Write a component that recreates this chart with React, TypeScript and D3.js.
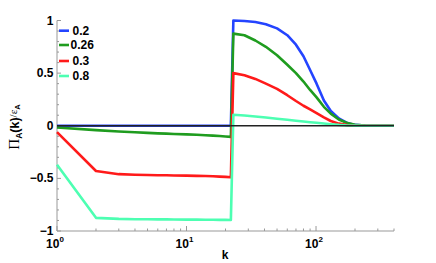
import React from 'react';
import * as d3 from 'd3';

// k values (shared by all series); the step sits between 22 and 23
const kValues = [1, 2, 3, 4, 5, 6, 7, 8, 10, 12, 14, 16, 18, 20, 22,
  23, 28, 34, 41, 50, 60, 70, 80, 90, 101, 115, 130, 150, 175, 200, 240, 300, 400];

const series02 = [0, 0, 0, 0, 0, 0, 0, 0, 0, 0, 0, 0, 0, 0, 0,
  1.0, 0.995, 0.985, 0.965, 0.925, 0.86, 0.77, 0.66, 0.53, 0.40, 0.24, 0.14, 0.07, 0.025, 0.008, 0.001, 0, 0];
const series026 = [-0.017, -0.042, -0.055, -0.062, -0.068, -0.072, -0.075, -0.078, -0.082, -0.086, -0.09, -0.094, -0.098, -0.102, -0.106,
  0.875, 0.86, 0.81, 0.75, 0.67, 0.58, 0.50, 0.42, 0.34, 0.27, 0.18, 0.115, 0.06, 0.025, 0.01, 0.002, 0, 0];
const series03 = [-0.06, -0.43, -0.46, -0.465, -0.468, -0.47, -0.471, -0.472, -0.474, -0.476, -0.478, -0.48, -0.483, -0.486, -0.49,
  0.50, 0.48, 0.445, 0.40, 0.35, 0.29, 0.235, 0.19, 0.155, 0.12, 0.08, 0.045, 0.02, 0.006, 0.001, 0, 0, 0];
const series08 = [-0.37, -0.875, -0.885, -0.888, -0.889, -0.89, -0.89, -0.891, -0.892, -0.892, -0.893, -0.893, -0.894, -0.894, -0.895,
  0.105, 0.097, 0.088, 0.078, 0.067, 0.057, 0.048, 0.041, 0.034, 0.028, 0.021, 0.015, 0.008, 0.003, 0.001, 0, 0, 0];

const legendLabels = ['0.2', '0.26', '0.3', '0.8'];
const colors = ['#2444ff', '#1f9c1f', '#ff1a1a', '#4dffb2'];
const allSeries = [series02, series026, series03, series08];

const yTicks = [-1, -0.5, 0, 0.5, 1];
const yTickLabels = ['\u22121', '\u22120.5', '0', '0.5', '1'];
const xTicks = [1, 10, 100];
const xTickExps = ['0', '1', '2'];

const W = 436;
const H = 263;

export default function App() {
  const x = d3.scaleLog().domain([1, 400]).range([57, 394]);
  const y = d3.scaleLinear().domain([-1, 1]).range([231, 20.5]);

  const line = d3.line<number>()
    .x((_, i) => x(kValues[i]))
    .y(d => y(d));

  // minor ticks
  const yMinor = d3.range(-10, 11).map(i => i / 10).filter(v => Math.abs(v * 2 - Math.round(v * 2)) > 1e-6);
  const xMinor: number[] = [];
  [1, 10, 100].forEach(dec => {
    for (let m = 2; m <= 9; m++) {
      const v = dec * m;
      if (v <= 400) xMinor.push(v);
    }
  });

  const axisColor = '#999';
  const font = 'Liberation Sans, Arial, sans-serif';

  return (
    <svg width={W} height={H} style={{ position: 'absolute', left: 0, top: 0 }} fontFamily={font}>
      {/* axes */}
      <line x1={x(1)} x2={x(1)} y1={y(-1)} y2={y(1)} stroke={axisColor} strokeWidth={1} />
      <line x1={x(1)} x2={x(400)} y1={y(-1)} y2={y(-1)} stroke={axisColor} strokeWidth={1} />
      {yTicks.map(t => (
        <line key={'ym' + t} x1={x(1)} x2={x(1) + 4} y1={y(t)} y2={y(t)} stroke={axisColor} />
      ))}
      {yMinor.map(t => (
        <line key={'yn' + t} x1={x(1)} x2={x(1) + 2} y1={y(t)} y2={y(t)} stroke={axisColor} />
      ))}
      {yTicks.map((t, i) => (
        <text key={'yl' + t} x={53.5} y={y(t) + 4} textAnchor="end" fontSize={12} fontWeight="bold">{yTickLabels[i]}</text>
      ))}
      {xTicks.map(t => (
        <line key={'xm' + t} x1={x(t)} x2={x(t)} y1={y(-1)} y2={y(-1) - 5} stroke={axisColor} />
      ))}
      {xMinor.map(t => (
        <line key={'xn' + t} x1={x(t)} x2={x(t)} y1={y(-1)} y2={y(-1) - 2.5} stroke={axisColor} />
      ))}
      {xTicks.map((t, i) => (
        <text key={'xl' + t} x={x(t) - 2} y={248} textAnchor="middle" fontSize={12} fontWeight="bold">
          10<tspan dy={-6} fontSize={8}>{xTickExps[i]}</tspan>
        </text>
      ))}
      <text x={225} y={259} textAnchor="middle" fontSize={12} fontWeight="bold">k</text>
      <text transform="translate(19,127) rotate(-90)" textAnchor="middle" fontSize={12.5} fontWeight="bold">
        <tspan fontFamily="Liberation Serif, serif" fontWeight="normal" fontSize={15}>Π</tspan>
        <tspan fontSize={8.5} dy={3}>A</tspan>
        <tspan dy={-3}>(k)</tspan>
        <tspan fontFamily="Liberation Serif, serif" fontWeight="normal" fontSize={11} dy={-2}>/ε</tspan>
        <tspan fontSize={7.5} dy={3}>A</tspan>
      </text>

      {/* series */}
      {allSeries.map((s, i) => (
        <path key={'s' + i} d={line(s) || ''} fill="none" stroke={colors[i]} strokeWidth={2.6} strokeLinejoin="round" />
      ))}
      <line x1={x(1)} x2={x(400)} y1={y(0)} y2={y(0)} stroke="#222" strokeWidth={1.3} />

      {/* legend */}
      {legendLabels.map((l, i) => {
        const ly = [30.7, 45, 61, 76][i];
        return (
          <g key={'lg' + i}>
            <line x1={59} x2={69} y1={ly} y2={ly} stroke={colors[i]} strokeWidth={2.6} />
            <text x={i === 1 ? 70.5 : 72.5} y={ly + 4.3} fontSize={12} fontWeight="bold">{l}</text>
          </g>
        );
      })}
    </svg>
  );
}
